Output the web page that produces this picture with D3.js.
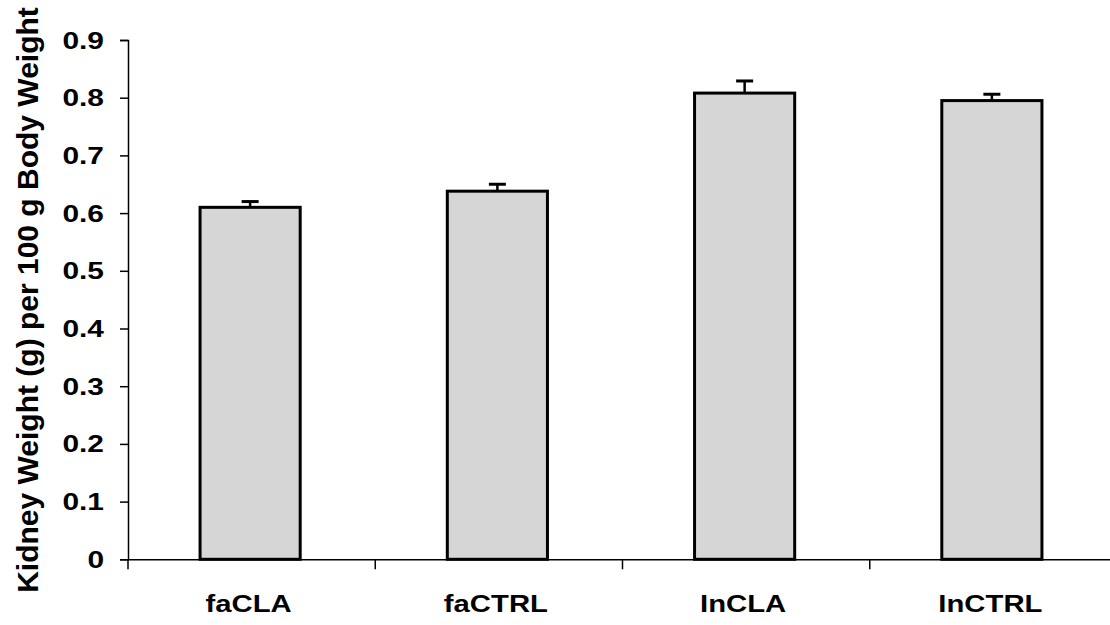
<!DOCTYPE html>
<html>
<head>
<meta charset="utf-8">
<script src="https://cdn.jsdelivr.net/npm/d3@7"></script>
<style>
  html, body { margin: 0; padding: 0; background: #fff; }
  svg { display: block; }
  text { font-family: "Liberation Sans", Arial, Helvetica, sans-serif; font-weight: bold; fill: #000; }
</style>
</head>
<body>
<svg id="chart" width="1110" height="625"></svg>
<script>
const categories = ["faCLA", "faCTRL", "InCLA", "InCTRL"];
const values = [0.61, 0.638, 0.808, 0.795];
const errors = [0.010, 0.012, 0.021, 0.011];
const yTicks = [0, 0.1, 0.2, 0.3, 0.4, 0.5, 0.6, 0.7, 0.8, 0.9];
const yLabel = "Kidney Weight (g) per 100 g Body Weight";

const svg = d3.select("#chart");
const plotLeft = 128, plotRight = 1117, plotTop = 40, plotBottom = 559.3;

const x = d3.scaleBand().domain(categories).range([plotLeft, plotRight]).paddingInner(0.595).paddingOuter(0.2975);
const y = d3.scaleLinear().domain([0, 0.9]).range([plotBottom, plotTop]);

// bars
svg.append("g").selectAll("rect").data(categories).join("rect")
  .attr("x", d => x(d) - 1.5)
  .attr("y", (d, i) => y(values[i]))
  .attr("width", x.bandwidth())
  .attr("height", (d, i) => y(0) - y(values[i]))
  .attr("fill", "#d6d6d6")
  .attr("stroke", "#000")
  .attr("stroke-width", 3);

// error bars (upper only)
const eb = svg.append("g").selectAll("g").data(categories).join("g");
eb.append("line")
  .attr("x1", d => x(d) - 1.5 + x.bandwidth() / 2)
  .attr("x2", d => x(d) - 1.5 + x.bandwidth() / 2)
  .attr("y1", (d, i) => y(values[i]))
  .attr("y2", (d, i) => y(values[i] + errors[i]))
  .attr("stroke", "#000").attr("stroke-width", 2.5);
eb.append("line")
  .attr("x1", d => x(d) - 1.5 + x.bandwidth() / 2 - 8.5)
  .attr("x2", d => x(d) - 1.5 + x.bandwidth() / 2 + 8.5)
  .attr("y1", (d, i) => y(values[i] + errors[i]))
  .attr("y2", (d, i) => y(values[i] + errors[i]))
  .attr("stroke", "#000").attr("stroke-width", 3);

// y axis
const yAxis = svg.append("g").attr("transform", `translate(${plotLeft},0)`)
  .call(d3.axisLeft(y).tickValues(yTicks).tickSize(8).tickPadding(0).tickFormat(d => d === 0 ? "0" : d3.format(".1f")(d)));
yAxis.select(".domain").attr("stroke", "#000").attr("stroke-width", 1.5);
yAxis.selectAll(".tick line").attr("stroke", "#000").attr("stroke-width", 1.5);
yAxis.selectAll(".tick text")
  .attr("x", null).attr("dy", null)
  .attr("transform", "translate(-24,8) scale(1.3,1)")
  .style("font-size", "23px")
  .attr("text-anchor", "end");

// x axis
const xAxis = svg.append("g").attr("transform", `translate(0,${plotBottom})`)
  .call(d3.axisBottom(x).tickSize(0).tickPadding(0));
xAxis.select(".domain").attr("stroke", "#000").attr("stroke-width", 1.5);
xAxis.selectAll(".tick text")
  .attr("y", null).attr("dy", null)
  .attr("transform", "translate(-3,53) scale(1.22,1)")
  .style("font-size", "24px")
  .attr("text-anchor", "middle");

// category separator ticks on x axis
const sepVals = [plotLeft].concat(categories.map(c => x(c) + x.bandwidth() + (x.step() - x.bandwidth()) / 2));
svg.append("g").selectAll("line").data(sepVals).join("line")
  .attr("x1", d => d).attr("x2", d => d)
  .attr("y1", plotBottom).attr("y2", plotBottom + 10)
  .attr("stroke", "#000").attr("stroke-width", 1.5);

// y label
svg.append("text")
  .attr("transform", `translate(38,${(10 + 590) / 2}) rotate(-90)`)
  .attr("text-anchor", "middle")
  .style("font-size", "30px")
  .text(yLabel);
</script>
</body>
</html>
